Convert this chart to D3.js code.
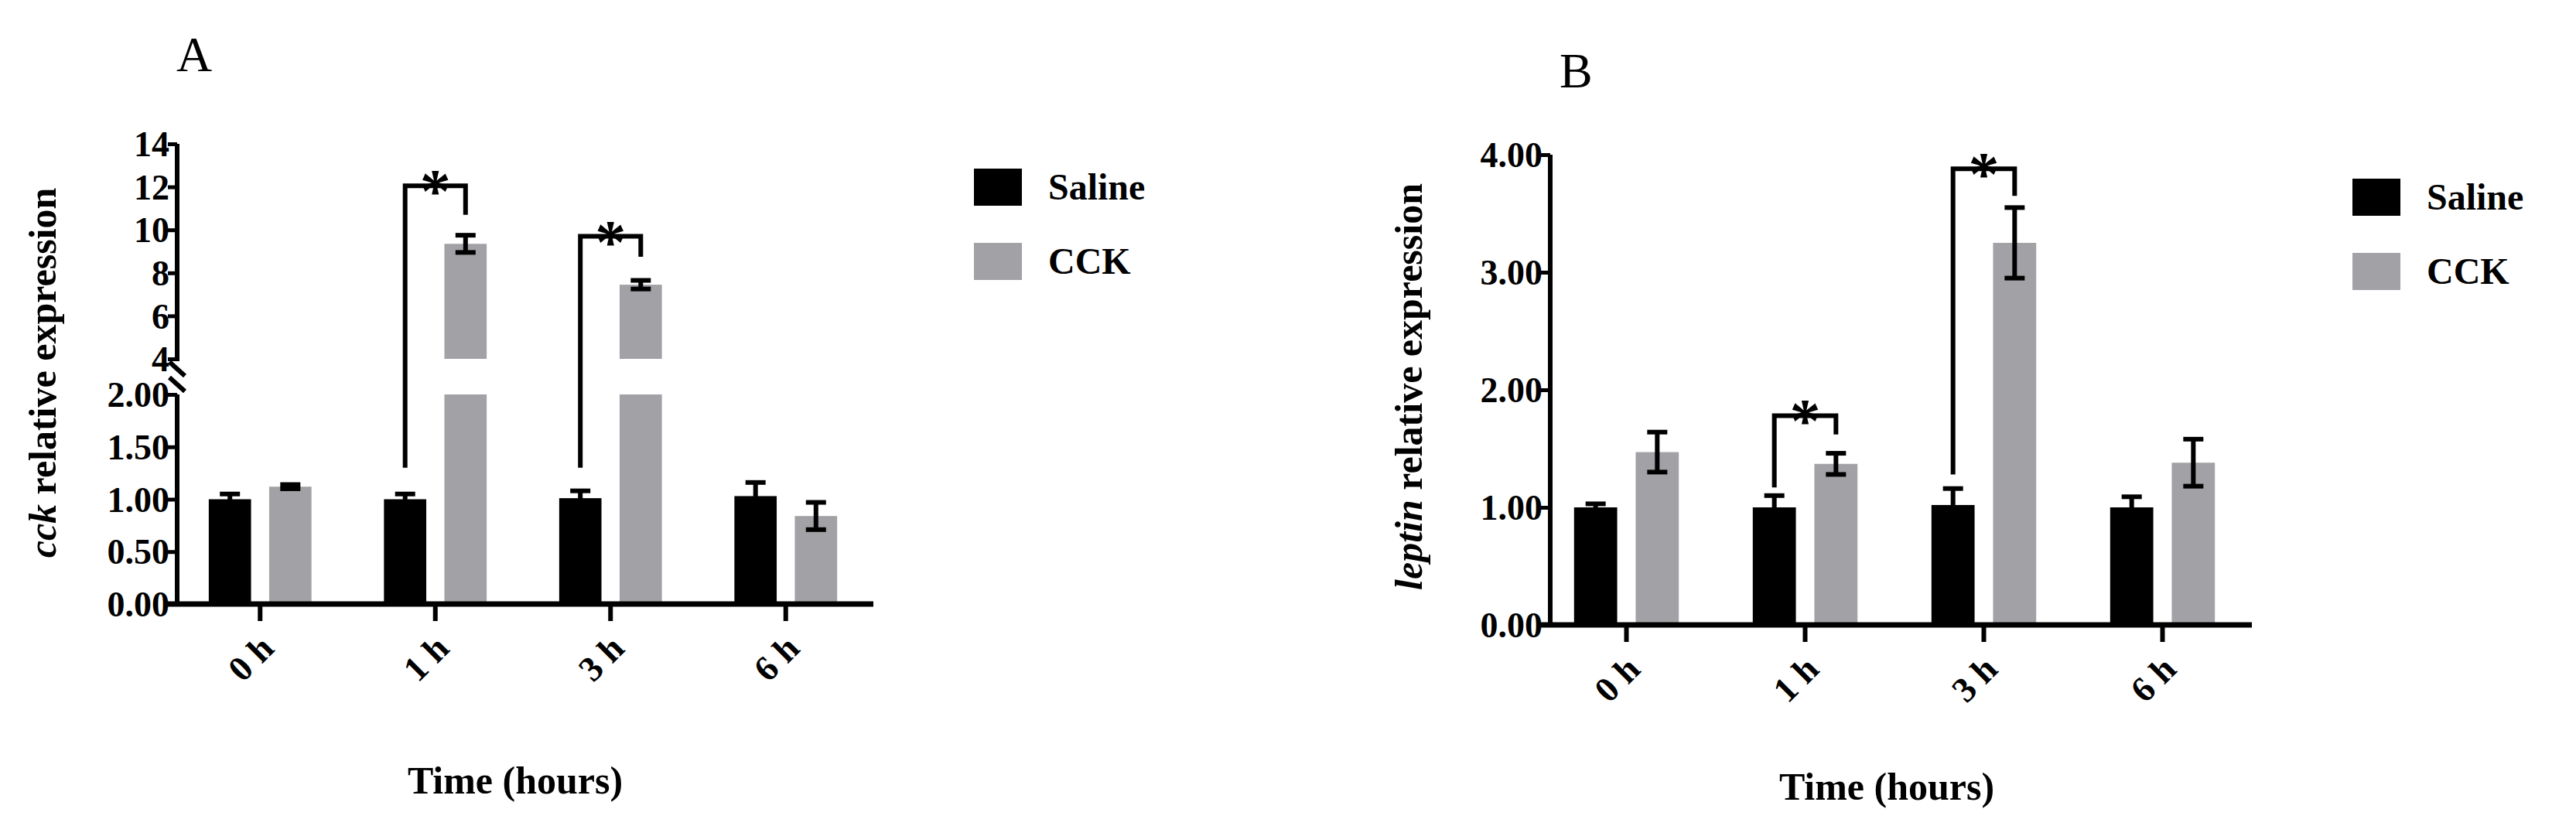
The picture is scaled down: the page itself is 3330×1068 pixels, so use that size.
<!DOCTYPE html>
<html><head><meta charset="utf-8">
<script src="https://cdn.jsdelivr.net/npm/d3@7"></script>
<style>body{margin:0;background:#fff}svg{display:block}</style>
</head><body><svg id="chart" width="3330" height="1068"></svg>
<script>
const groups = ["0 h", "1 h", "3 h", "6 h"];
const seriesNames = ["Saline", "CCK"];
const cckSaline = [1.00, 1.00, 1.01, 1.03];
const cckSalineErr = [0.05, 0.05, 0.07, 0.13];
const cckCck = [1.12, 9.35, 7.45, 0.84];
const cckCckErr = [0.02, 0.4, 0.2, 0.13];
const leptinSaline = [1.00, 1.00, 1.02, 1.00];
const leptinSalineErr = [0.03, 0.10, 0.14, 0.09];
const leptinCck = [1.47, 1.37, 3.25, 1.38];
const leptinCckErr = [0.17, 0.09, 0.30, 0.20];
const cckLowTicks = [0, 0.5, 1, 1.5, 2];
const cckHighTicks = [4, 6, 8, 10, 12, 14];
const leptinTicks = [0, 1, 2, 3, 4];
// brackets: group index, left bottom, top, right bottom (data units)
const cckBrackets = [[1, 1.30, 12.05, 10.7], [2, 1.30, 9.7, 8.75]];
const leptinBrackets = [[1, 1.17, 1.78, 1.62], [2, 1.28, 3.88, 3.65]];

const colors = ["#000000", "#a2a2a6"];
const FONT = "Liberation Serif, Times New Roman, serif";
const svg = d3.select("#chart");

function drawPanel(p) {
  const g = svg.append("g");
  const x = d3.scaleBand().domain(groups).range([p.x0, p.x1]);
  const sub = d3.scaleBand().domain(seriesNames).range([0, x.bandwidth()]).paddingInner(0.3).paddingOuter(0.6);
  const y = p.y;
  const base = y(0);
  const data = [p.saline, p.cck];
  const errs = [p.salineErr, p.cckErr];

  // bars
  seriesNames.forEach((s, si) => {
    groups.forEach((gr, gi) => {
      const v = data[si][gi];
      const bx = x(gr) + sub(s);
      const segs = p.broken && v > p.breakLo ? [[0, p.breakLo], [p.breakHi, v]] : [[0, v]];
      segs.forEach(([a, b]) => g.append("rect")
        .attr("x", bx).attr("width", sub.bandwidth())
        .attr("y", y(b)).attr("height", y(a) - y(b))
        .attr("fill", colors[si]));
      const cx = bx + sub.bandwidth() / 2, e = errs[si][gi];
      const eg = g.append("g").attr("stroke", "#000").attr("stroke-width", 6);
      eg.append("line").attr("x1", cx).attr("x2", cx).attr("y1", y(v - e)).attr("y2", y(v + e));
      [v - e, v + e].forEach(t => eg.append("line").attr("x1", cx - 13).attr("x2", cx + 13).attr("y1", y(t)).attr("y2", y(t)));
    });
  });

  // brackets
  p.brackets.forEach(([gi, lb, top, rb]) => {
    const xl = x(groups[gi]) + sub("Saline") + sub.bandwidth() / 2;
    const xr = x(groups[gi]) + sub("CCK") + sub.bandwidth() / 2;
    g.append("path").attr("fill", "none").attr("stroke", "#000").attr("stroke-width", 6)
      .attr("d", `M${xl},${y(lb)}V${y(top)}H${xr}V${y(rb)}`);
    g.append("text").attr("x", (xl + xr) / 2).attr("y", y(top) + 34)
      .attr("text-anchor", "middle").style("font", `bold 80px ${FONT}`).text("*");
  });

  // y axes
  p.axes.forEach(a => {
    const ax = g.append("g").attr("transform", `translate(${p.ax},0)`)
      .call(d3.axisLeft(a.scale).tickValues(a.ticks).tickFormat(d3.format(a.fmt)).tickSize(12).tickSizeOuter(0));
    ax.select(".domain").attr("stroke-width", 6).attr("d", `M0,${a.scale.range()[0] + 3}V${a.scale.range()[1]}`);
    ax.selectAll(".tick line").attr("stroke-width", 5);
    ax.selectAll("text").style("font", `bold 46px ${FONT}`).attr("x", -10).attr("dy", "0.34em");
  });
  if (p.broken) {
    const yb = y(p.breakLo), yt = y(p.breakHi);
    g.append("path").attr("fill", "none").attr("stroke", "#000").attr("stroke-width", 6)
      .attr("d", `M${p.ax - 10},${yt + 4}L${p.ax + 10},${yt + 22}M${p.ax - 10},${yb - 22}L${p.ax + 10},${yb - 4}`);
  }

  // x axis
  const xa = g.append("g").attr("transform", `translate(0,${base})`)
    .call(d3.axisBottom(x).tickSize(22).tickSizeOuter(0));
  xa.select(".domain").attr("stroke-width", 7).attr("d", `M${p.ax - 14},0H${p.x1}`);
  xa.selectAll(".tick line").attr("stroke-width", 6);
  xa.selectAll("text").style("font", `bold 46px ${FONT}`)
    .attr("text-anchor", "end").attr("dy", 0).attr("y", 0)
    .attr("transform", "translate(20,60) rotate(-45)");

  g.append("text").attr("x", (p.x0 + p.x1) / 2 - 10).attr("y", p.titleY)
    .attr("text-anchor", "middle").style("font", `bold 50px ${FONT}`).text("Time (hours)");

  const yl = g.append("text").attr("transform", `translate(${p.ylx},${p.yly}) rotate(-90)`)
    .attr("text-anchor", "middle").style("font", `bold 50px ${FONT}`);
  yl.append("tspan").style("font-style", "italic").text(p.gene);
  yl.append("tspan").text(" relative expression");

  g.append("text").attr("x", p.letterX).attr("y", p.letterY).style("font", `64px ${FONT}`).text(p.letter);

  seriesNames.forEach((s, i) => {
    g.append("rect").attr("x", p.legX).attr("y", p.legY + i * 96).attr("width", 62).attr("height", 48).attr("fill", colors[i]);
    g.append("text").attr("x", p.legX + 96).attr("y", p.legY + i * 96 + 40)
      .style("font", `bold 48px ${FONT}`).text(s);
  });
}

// panel A: broken axis
const aLow = d3.scaleLinear().domain([0, 2]).range([781, 510]);
const aHigh = d3.scaleLinear().domain([4, 14]).range([464, 186]);
const aY = v => v <= 2 ? aLow(v) : aHigh(v);
drawPanel({
  x0: 223, x1: 1129, ax: 229, y: aY, broken: true, breakLo: 2, breakHi: 4,
  saline: cckSaline, salineErr: cckSalineErr, cck: cckCck, cckErr: cckCckErr, brackets: cckBrackets,
  axes: [{ scale: aLow, ticks: cckLowTicks, fmt: ".2f" }, { scale: aHigh, ticks: cckHighTicks, fmt: "d" }],
  titleY: 1026, ylx: 72, yly: 482, gene: "cck", letter: "A", letterX: 228, letterY: 92,
  legX: 1259, legY: 218
});

// panel B
const bY = d3.scaleLinear().domain([0, 4]).range([808, 200]);
drawPanel({
  x0: 1987, x1: 2911, ax: 2004, y: bY, broken: false,
  saline: leptinSaline, salineErr: leptinSalineErr, cck: leptinCck, cckErr: leptinCckErr, brackets: leptinBrackets,
  axes: [{ scale: bY, ticks: leptinTicks, fmt: ".2f" }],
  titleY: 1034, ylx: 1838, yly: 500, gene: "leptin", letter: "B", letterX: 2016, letterY: 113,
  legX: 3041, legY: 231
});
</script></body></html>
